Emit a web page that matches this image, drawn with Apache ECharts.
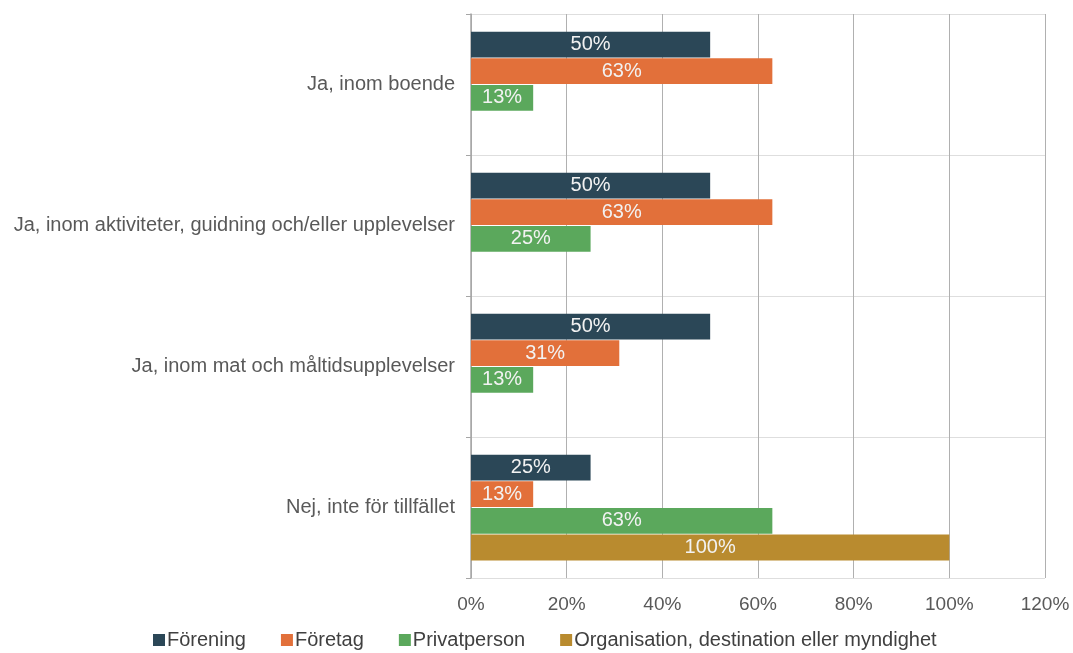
<!DOCTYPE html>
<html>
<head>
<meta charset="utf-8">
<script src="https://cdn.jsdelivr.net/npm/echarts@6/dist/echarts.min.js"></script>
<style>
  html, body { margin: 0; padding: 0; background: #ffffff; }
  #chart { width: 1073px; height: 653px; }
</style>
</head>
<body>
<div id="chart"></div>
<script>
// Answer categories, listed top to bottom
const categories = [
  'Ja, inom boende',
  'Ja, inom aktiviteter, guidning och/eller upplevelser',
  'Ja, inom mat och måltidsupplevelser',
  'Nej, inte för tillfället'
];

// Share of respondents (%) per respondent type
const forening = [50, 50, 50, 25];
const foretag = [63, 63, 31, 13];
const privatperson = [13, 25, 13, 63];
const organisation = [null, null, null, 100];

const seriesNames = [
  'Förening',
  'Företag',
  'Privatperson',
  'Organisation, destination eller myndighet'
];
const seriesData = [forening, foretag, privatperson, organisation];
const seriesColors = ['#2b4757', '#e2703a', '#5ba85c', '#b98b2f'];

const fontFamily = '"Liberation Sans", Arial, Helvetica, sans-serif';

const chart = echarts.init(document.getElementById('chart'), null, { renderer: 'canvas' });

chart.setOption({
  animation: false,
  textStyle: { fontFamily: fontFamily },
  grid: { left: 471, right: 28, top: 14, bottom: 75, containLabel: false },
  legend: {
    top: 625,
    left: 148,
    itemWidth: 12,
    itemHeight: 12,
    itemGap: 35,
    icon: 'rect',
    textStyle: { fontSize: 20, color: '#404040', fontFamily: fontFamily, padding: [0, 0, 0, -3] },
    data: seriesNames
  },
  xAxis: {
    type: 'value',
    min: 0,
    max: 120,
    interval: 20,
    axisLine: { show: false },
    axisTick: { show: false },
    axisLabel: {
      formatter: '{value}%',
      fontSize: 19,
      color: '#595959',
      margin: 17,
      fontFamily: fontFamily
    },
    splitLine: { show: true, lineStyle: { color: '#b0b0b0', width: 1 } }
  },
  yAxis: {
    type: 'category',
    inverse: true,
    data: categories,
    axisLine: { show: true, lineStyle: { color: '#a6a6a6', width: 1.5 } },
    axisTick: { show: true, length: 5, lineStyle: { color: '#a6a6a6' } },
    axisLabel: {
      fontSize: 20,
      color: '#595959',
      margin: 16,
      fontFamily: fontFamily
    },
    splitLine: { show: true, lineStyle: { color: '#dedede', width: 1 } }
  },
  series: seriesNames.map((name, i) => ({
    name: name,
    type: 'bar',
    data: seriesData[i],
    barGap: '3%',
    barCategoryGap: '25%',
    itemStyle: { color: seriesColors[i] },
    label: {
      show: true,
      position: 'inside',
      formatter: '{c}%',
      color: '#f2f2f2',
      fontSize: 20,
      fontFamily: fontFamily
    }
  }))
});
</script>
</body>
</html>
